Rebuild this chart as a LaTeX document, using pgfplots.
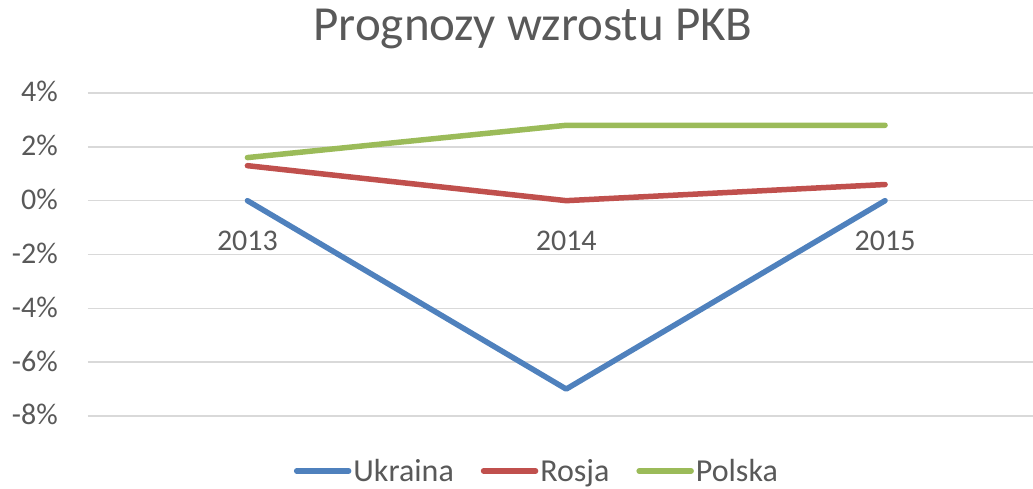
\documentclass[border=0pt]{standalone}
\usepackage{pgfplots}
\pgfplotsset{compat=1.18}
\usepackage{fontspec}
\setmainfont{Carlito}
\definecolor{txt}{HTML}{595959}
\definecolor{gridc}{HTML}{D9D9D9}
\definecolor{cUA}{HTML}{4F81BD}
\definecolor{cRU}{HTML}{C0504D}
\definecolor{cPL}{HTML}{9BBB59}
\begin{document}
\begin{tikzpicture}
\path[use as bounding box] (0pt,0pt) rectangle (1033pt,489pt);
\node[anchor=base, text=txt, inner sep=0, font=\fontsize{49}{54}\selectfont] at (533pt,448pt) {Prognozy wzrostu PKB};
\begin{axis}[
  at={(88pt,73pt)}, anchor=south west,
  scale only axis, width=945pt, height=323pt,
  xmin=-0.5, xmax=2.464, ymin=-8, ymax=4,
  axis x line*=middle, axis y line*=left,
  y axis line style={draw=none},
  x axis line style={draw=gridc, line width=1.5pt},
  major tick length=0pt,
  xtick={0,1,2}, xticklabels={2013,2014,2015},
  ytick={-8,-6,-4,-2,0,2,4},
  yticklabel={\pgfmathprintnumber{\tick}\%},
  /pgf/number format/assume math mode=true,
  ymajorgrids, grid style={draw=gridc, line width=1.5pt},
  tick label style={text=txt, font=\fontsize{30}{34}\selectfont, inner sep=0pt},
  xticklabel style={anchor=base, yshift=-50pt},
  yticklabel style={anchor=base east, xshift=-30pt, yshift=-9pt},
  clip=false,
  legend style={at={(axis description cs:0.475,-0.17)}, anchor=center, draw=none, fill=none,
    font=\fontsize{32}{36}\selectfont, text=txt, legend columns=3, inner sep=0pt,
    nodes={inner sep=2pt, anchor=west},
    /tikz/every even column/.append style={column sep=25pt}},
  legend image code/.code={\draw[#1, line width=5.5pt, line cap=round] (0pt,0pt) -- (52pt,0pt);},
  every axis plot/.append style={line width=5.5pt, line cap=round, line join=round, mark=none},
]
\addplot[cUA] coordinates {(0,0) (1,-7) (2,0)};
\addlegendentry{Ukraina}
\addplot[cRU] coordinates {(0,1.3) (1,0) (2,0.6)};
\addlegendentry{Rosja}
\addplot[cPL] coordinates {(0,1.6) (1,2.8) (2,2.8)};
\addlegendentry{Polska}
\end{axis}
\end{tikzpicture}
\end{document}
